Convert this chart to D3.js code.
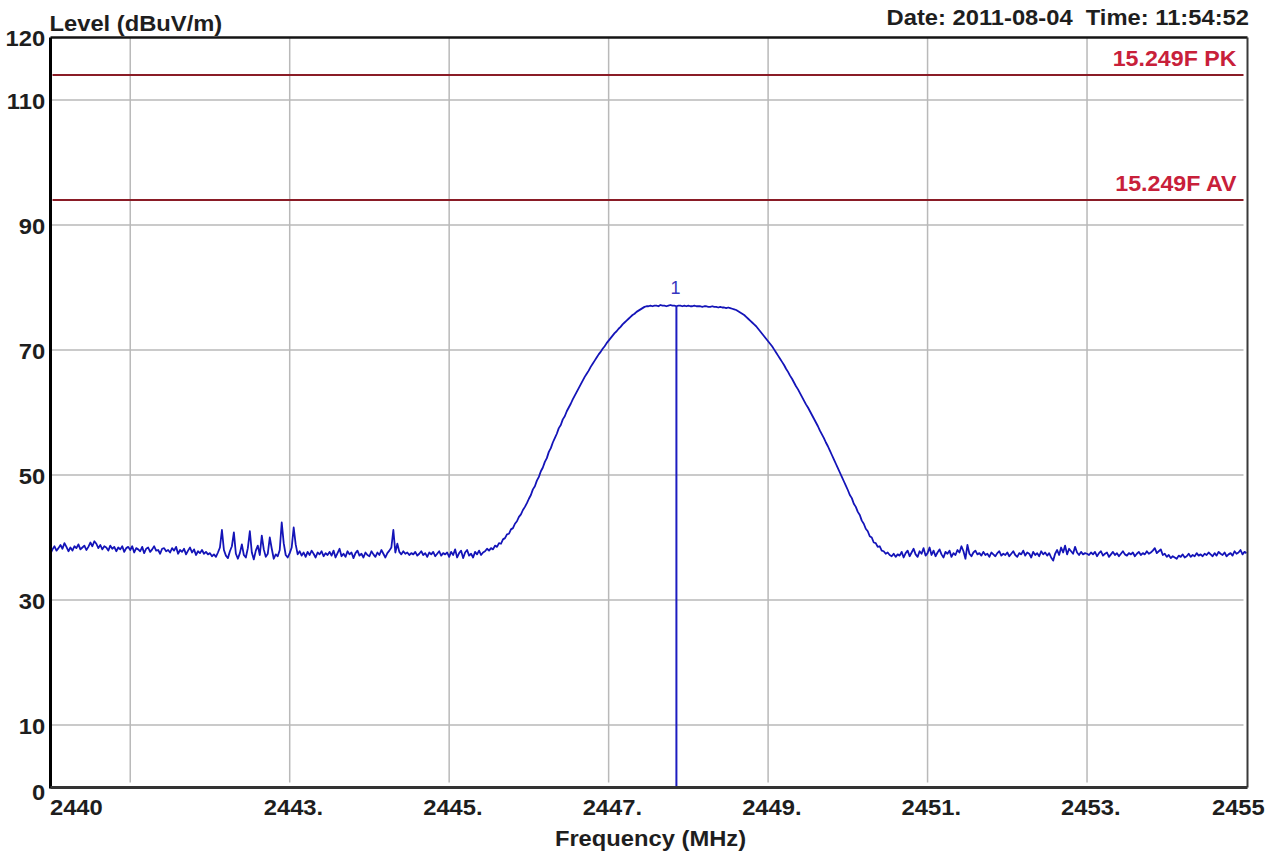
<!DOCTYPE html>
<html>
<head>
<meta charset="utf-8">
<script src="https://cdn.jsdelivr.net/npm/d3@7/dist/d3.min.js"></script>
<style>
  html, body { margin: 0; padding: 0; background: #ffffff; }
  svg { display: block; }
  text { font-family: "Liberation Sans", Arial, sans-serif; white-space: pre; }
</style>
</head>
<body>
<script>
// ---- Sweep settings ----
const startFreq = 2440;      // MHz
const stopFreq = 2455;       // MHz
const stepFreq = 0.025;      // MHz between trace points

// Measured level (dBuV/m), one value per sweep step from 2440.000 to 2455.000 MHz
const levels = [
  // 2440.0
  37.4, 38.1, 38.6, 37.9, 38.3, 38.8, 38.2, 39.1, 38.5, 37.8, 38.4, 37.9, 38.6, 38.3, 38.9, 38.1, 38.4, 38.7, 38.0, 38.5,
  // 2440.5
  39.2, 38.6, 39.4, 39.0, 38.3, 38.8, 38.1, 38.6, 38.4, 37.9, 38.7, 38.2, 38.5, 37.8, 38.4, 38.1, 38.6, 37.7, 38.3, 38.5,
  // 2441.0
  38.0, 38.6, 37.6, 38.3, 38.1, 37.8, 38.5, 37.5, 38.2, 38.4, 37.7, 38.1, 38.6, 37.9, 38.0, 37.4, 38.2, 38.3, 37.8, 38.0,
  // 2441.5
  37.6, 38.3, 37.9, 38.5, 37.4, 38.0, 37.7, 38.2, 37.3, 37.9, 38.4, 37.6, 38.1, 37.2, 37.8, 37.5, 38.0, 37.4, 37.7, 37.3,
  // 2442.0
  37.5, 37.0, 37.3, 36.9, 37.6, 38.4, 41.2, 38.0, 37.1, 36.7, 37.8, 38.6, 40.8, 37.4, 36.6, 37.5, 38.9, 37.2, 36.8, 38.3,
  // 2442.5
  41.0, 37.6, 36.5, 37.9, 38.7, 37.2, 40.3, 38.1, 36.9, 37.4, 40.0, 38.2, 36.6, 37.3, 37.0, 38.0, 42.4, 39.1, 37.2, 36.8,
  // 2443.0
  37.5, 38.4, 41.6, 38.9, 37.3, 37.8, 37.1, 37.6, 36.9, 37.7, 37.2, 37.9, 37.4, 36.8, 37.6, 37.3, 37.8, 37.0, 37.5, 37.2,
  // 2443.5
  37.7, 37.1, 37.9, 36.8, 37.5, 38.2, 37.0, 37.4, 36.9, 37.8, 37.3, 37.6, 36.7, 37.5, 37.9, 37.1, 37.4, 36.8, 37.6, 37.2,
  // 2444.0
  37.0, 37.8, 37.3, 36.9, 37.6, 37.2, 38.0, 37.4, 36.8, 37.5, 37.9, 38.4, 41.2, 37.6, 39.0, 37.7, 37.3, 37.8, 37.4, 37.6,
  // 2444.5
  37.2, 37.5, 37.3, 37.7, 37.1, 37.4, 37.8, 37.2, 37.5, 36.9, 37.6, 37.3, 37.7, 37.0, 37.4, 37.8, 37.1, 37.5, 37.3, 37.6,
  // 2445.0
  36.9, 37.7, 37.2, 38.1, 36.8, 37.5, 37.9, 36.7, 37.6, 38.0, 37.1, 37.4, 36.8, 37.7, 37.3, 37.9, 37.2, 37.6, 37.8, 38.2,
  // 2445.5
  37.9, 38.3, 38.1, 38.7, 38.5, 39.1, 39.0, 39.7, 39.9, 40.5, 40.6, 41.3, 41.5, 42.2, 42.6, 43.3, 43.7, 44.4, 44.9, 45.5,
  // 2446.0
  46.2, 46.8, 47.7, 48.2, 49.1, 49.7, 50.6, 51.2, 52.1, 52.7, 53.7, 54.3, 55.2, 55.9, 56.6, 57.5, 58.0, 58.9, 59.4, 60.2,
  // 2446.5
  60.8, 61.4, 62.1, 62.7, 63.3, 63.9, 64.5, 65.1, 65.7, 66.2, 66.7, 67.3, 67.8, 68.3, 68.8, 69.3, 69.7, 70.2, 70.6, 71.1,
  // 2447.0
  71.5, 71.9, 72.3, 72.7, 73.0, 73.4, 73.7, 74.1, 74.4, 74.7, 75.0, 75.3, 75.6, 75.8, 76.1, 76.3, 76.5, 76.7, 76.9, 77.0,
  // 2447.5
  77.0, 77.1, 77.0, 77.1, 77.1, 77.0, 77.2, 77.1, 77.1, 77.0, 77.1, 77.2, 77.1, 77.1, 77.0, 77.1, 77.1, 77.0, 77.1, 77.0,
  // 2448.0
  77.1, 77.0, 77.0, 77.1, 77.0, 77.0, 77.0, 76.9, 77.0, 77.0, 76.9, 76.9, 77.0, 76.9, 76.9, 76.8, 76.9, 76.8, 76.8, 76.7,
  // 2448.5
  76.8, 76.7, 76.6, 76.5, 76.4, 76.2, 76.0, 75.8, 75.6, 75.3, 75.0, 74.7, 74.4, 74.1, 73.8, 73.4, 73.0, 72.6, 72.2, 71.8,
  // 2449.0
  71.4, 71.0, 70.6, 70.1, 69.6, 69.1, 68.6, 68.1, 67.6, 67.0, 66.5, 65.9, 65.4, 64.8, 64.2, 63.7, 63.1, 62.5, 61.9, 61.3,
  // 2449.5
  60.8, 60.2, 59.6, 59.0, 58.4, 57.8, 57.1, 56.5, 55.9, 55.2, 54.6, 53.9, 53.2, 52.5, 51.8, 51.1, 50.4, 49.7, 49.0, 48.3,
  // 2450.0
  47.6, 46.8, 46.3, 45.4, 44.9, 44.1, 43.6, 42.7, 42.2, 41.4, 41.0, 40.2, 40.0, 39.2, 39.1, 38.5, 38.6, 37.9, 37.8, 37.4,
  // 2450.5
  37.6, 37.2, 37.0, 37.4, 36.9, 37.3, 37.1, 37.7, 36.8, 37.5, 37.9, 37.0, 37.6, 38.2, 37.3, 36.9, 37.8, 37.4, 38.3, 37.1,
  // 2451.0
  37.5, 38.4, 37.2, 37.9, 37.0, 37.6, 38.1, 37.3, 36.8, 37.7, 37.4, 37.9, 36.9, 37.5, 37.2, 38.0, 37.6, 38.6, 37.8, 36.6,
  // 2451.5
  38.8, 37.4, 37.0, 37.6, 37.9, 37.3, 37.5, 37.1, 37.7, 37.2, 37.4, 36.9, 37.6, 37.3, 37.0, 37.5, 37.8, 37.1, 37.4, 37.2,
  // 2452.0
  37.6, 37.0, 37.4, 37.8, 37.2, 36.9, 37.5, 37.3, 37.9, 37.1, 37.6, 37.4, 36.8, 37.7, 37.2, 37.5, 37.0, 37.8, 37.3, 37.6,
  // 2452.5
  37.1, 37.5, 36.8, 36.3, 37.4, 38.0, 37.2, 38.4, 37.6, 38.7, 37.3, 38.2, 37.8, 37.4, 38.5, 37.6, 37.2, 37.7, 37.3, 37.5,
  // 2453.0
  37.4, 37.2, 37.6, 37.3, 37.7, 37.0, 37.5, 37.8, 37.1, 37.4, 37.6, 36.9, 37.3, 37.7, 37.2, 37.5, 37.0, 37.4, 37.8, 37.3,
  // 2453.5
  37.1, 37.5, 37.3, 37.6, 37.0, 37.4, 37.7, 37.2, 37.5, 37.3, 37.8, 37.4, 37.6, 37.9, 38.3, 37.5, 37.8, 38.1, 37.2, 37.4,
  // 2454.0
  36.9, 37.2, 36.7, 37.0, 36.8, 36.6, 37.1, 36.9, 37.3, 36.8, 37.0, 37.4, 36.9, 37.2, 37.0, 37.5, 37.1, 37.3, 37.0, 37.4,
  // 2454.5
  37.2, 37.6, 37.3, 37.0, 37.5, 37.1, 37.7, 37.4, 37.2, 37.6, 37.0, 37.3, 37.5, 37.1, 37.8, 37.4, 37.6, 38.0, 37.3, 37.7,
  // 2455.0
  37.5
];

// Limit lines (FCC 15.249)
const limitNames = ["15.249F PK", "15.249F AV"];
const limitLevels = [114, 94];

// Marker 1
const markerLabels = ["1"];
const markerFreqs = [2447.85];

// Axis ticks and grid
const yTickValues = [0, 10, 30, 50, 70, 90, 110, 120];
const yGridValues = [10, 30, 50, 70, 90, 110];
const xTickValues = [2440, 2443, 2445, 2447, 2449, 2451, 2453, 2455];
const xGridValues = [2441, 2443, 2445, 2447, 2449, 2451, 2453];

const yTitle = "Level (dBuV/m)";
const xTitle = "Frequency (MHz)";
const stampText = "Date: 2011-08-04  Time: 11:54:52";

// ---- Layout ----
const W = 1279, H = 856;
const plotLeft = 50.5, plotRight = 1246.5, plotTop = 37.5, plotBottom = 787.5;
const stretch = 1.08;   // slightly wide lettering of the analyser printout

const svg = d3.select("body").append("svg")
  .attr("width", W).attr("height", H);

svg.append("rect").attr("width", W).attr("height", H).attr("fill", "#ffffff");

const x = d3.scaleLinear().domain([startFreq, stopFreq]).range([plotLeft, plotRight]);
const y = d3.scaleLinear().domain([0, 120]).range([plotBottom, plotTop]);

const trace = levels.map((v, i) => ({ f: startFreq + i * stepFreq, v }));

// Grid
const grid = svg.append("g");
grid.selectAll("line.h").data(yGridValues).join("line")
  .attr("class", "h")
  .attr("x1", plotLeft).attr("x2", plotRight - 3)
  .attr("y1", d => y(d)).attr("y2", d => y(d))
  .attr("stroke", "#b9b9b9").attr("stroke-width", 1.5);
grid.selectAll("line.v").data(xGridValues).join("line")
  .attr("class", "v")
  .attr("x1", d => x(d)).attr("x2", d => x(d))
  .attr("y1", plotTop).attr("y2", plotBottom - 5)
  .attr("stroke", "#b9b9b9").attr("stroke-width", 1.5);

// Limit lines with labels
const lim = svg.append("g");
lim.selectAll("line").data(limitLevels).join("line")
  .attr("x1", plotLeft + 2).attr("x2", plotRight - 3)
  .attr("y1", d => y(d)).attr("y2", d => y(d))
  .attr("stroke", "#8a1c26").attr("stroke-width", 2);
lim.selectAll("g.lbl").data(limitNames).join("g")
  .attr("class", "lbl")
  .attr("transform", (d, i) => `translate(${plotRight - 10},${y(limitLevels[i]) - 9})`)
  .append("text")
  .attr("transform", `scale(${stretch},1)`)
  .attr("text-anchor", "end")
  .attr("font-size", 21.5).attr("font-weight", "bold")
  .attr("fill", "#c8203a")
  .text(d => d);

// Trace
const line = d3.line().x(d => x(d.f)).y(d => y(d.v));
svg.append("path").datum(trace)
  .attr("d", line)
  .attr("fill", "none")
  .attr("stroke", "#1414b8")
  .attr("stroke-width", 1.8)
  .attr("stroke-linejoin", "round");

// Marker
const markers = markerFreqs.map((f, i) => {
  const idx = Math.round((f - startFreq) / stepFreq);
  return { f, v: levels[idx], label: markerLabels[i] };
});
const mk = svg.append("g");
mk.selectAll("line").data(markers).join("line")
  .attr("x1", d => x(d.f)).attr("x2", d => x(d.f))
  .attr("y1", d => y(d.v)).attr("y2", plotBottom)
  .attr("stroke", "#1c1cc0").attr("stroke-width", 2);
mk.selectAll("text").data(markers).join("text")
  .attr("x", d => x(d.f) - 1).attr("y", d => y(d.v) - 12)
  .attr("text-anchor", "middle")
  .attr("font-size", 18).attr("fill", "#3636c0")
  .text(d => d.label);

// Axes
const yAxis = d3.axisLeft(y).tickValues(yTickValues).tickSize(0).tickPadding(5);
const gy = svg.append("g").attr("transform", `translate(${plotLeft},0)`).call(yAxis);
gy.select(".domain").remove();
gy.selectAll("text")
  .attr("font-size", 22).attr("font-weight", "bold").attr("fill", "#1e1e1e")
  .attr("font-family", "\"Liberation Sans\", Arial, sans-serif")
  .attr("dy", d => d === 0 ? "0.56em" : "0.38em")
  .attr("transform", `scale(${stretch},1)`);

const xAxis = d3.axisBottom(x).tickValues(xTickValues).tickSize(0).tickPadding(12)
  .tickFormat(d => (d === startFreq || d === stopFreq) ? String(d) : d + ".");
const gx = svg.append("g").attr("transform", `translate(0,${plotBottom})`).call(xAxis);
gx.select(".domain").remove();
gx.selectAll("text")
  .attr("font-size", 22).attr("font-weight", "bold").attr("fill", "#1e1e1e")
  .attr("font-family", "\"Liberation Sans\", Arial, sans-serif")
  .attr("text-anchor", d => d === startFreq ? "start" : "middle")
  .attr("dx", d => d === startFreq ? -1 : (d === stopFreq ? -8 : 3))
  .attr("transform", `scale(${stretch},1)`);

// Frame
const frame = svg.append("g");
frame.append("line").attr("x1", plotLeft).attr("x2", plotRight + 1).attr("y1", plotTop).attr("y2", plotTop)
  .attr("stroke", "#141414").attr("stroke-width", 2.5);
frame.append("line").attr("x1", plotRight + 1).attr("x2", plotRight + 1).attr("y1", plotTop).attr("y2", plotBottom)
  .attr("stroke", "#3a3a3a").attr("stroke-width", 2);
frame.append("line").attr("x1", plotLeft).attr("x2", plotLeft).attr("y1", plotTop).attr("y2", plotBottom + 1)
  .attr("stroke", "#000000").attr("stroke-width", 3);
frame.append("line").attr("x1", plotLeft).attr("x2", plotRight + 1).attr("y1", plotBottom).attr("y2", plotBottom)
  .attr("stroke", "#333333").attr("stroke-width", 3);

// Titles
function stretchedText(px, py, anchor, size, str) {
  svg.append("g").attr("transform", `translate(${px},${py})`)
    .append("text")
    .attr("transform", `scale(${stretch},1)`)
    .attr("text-anchor", anchor)
    .attr("xml:space", "preserve")
    .attr("font-size", size).attr("font-weight", "bold").attr("fill", "#1e1e1e")
    .text(str);
}
stretchedText(plotLeft - 1, 31, "start", 22, yTitle);
stretchedText(1249, 25, "end", 22, stampText);
stretchedText((plotLeft + plotRight) / 2 + 2, 846, "middle", 22, xTitle);
</script>
</body>
</html>
